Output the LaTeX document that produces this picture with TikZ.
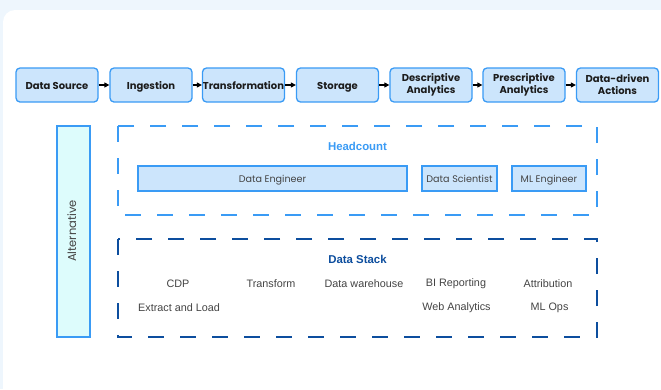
\documentclass[tikz,border=0pt]{standalone}
\usepackage{fontspec}
\setmainfont{Liberation Sans}
\newfontfamily\pop{Poppins}
\usetikzlibrary{arrows.meta}
\definecolor{pagebg}{HTML}{EEF6FD}
\definecolor{stepfill}{HTML}{CCE5FC}
\definecolor{stepline}{HTML}{3A9BF5}
\definecolor{altfill}{HTML}{DDFCFC}
\definecolor{darkblue}{HTML}{0D4E9E}
\definecolor{txt}{HTML}{1C1C1C}
\definecolor{graytxt}{HTML}{444444}
\tikzset{
  stage/.style={draw=stepline, fill=stepfill, line width=1.3pt, rounded corners=4pt,
    minimum width=82pt, minimum height=34pt, inner sep=0pt, align=center,
    text height=9.5pt, text depth=1pt,
    font=\pop\bfseries\fontsize{10}{12}\selectfont, text=txt},
  stagetwo/.style={stage, text height={}, text depth={}},
  flow/.style={-{Triangle[length=5pt,width=5pt]}, line width=1.2pt, black},
  role/.style={draw=stepline, fill=stepfill, line width=1.3pt, minimum height=25pt,
    inner sep=0pt, text height=8pt, text depth=1pt,
    font=\pop\fontsize{9.6}{11}\selectfont, text=graytxt},
  groupbox/.style={dash pattern=on 16pt off 16pt, line width=2.6pt},
  grouptitle/.style={font=\bfseries\fontsize{11.4}{13}\selectfont},
  tool/.style={font=\fontsize{10.8}{13}\selectfont, text=graytxt}
}
\begin{document}
\begin{tikzpicture}[x=1pt, y=-1pt]
\useasboundingbox (0,0) rectangle (661,389);
% backdrop and white panel
\fill[pagebg] (0,0) rectangle (661,389);
\fill[white, rounded corners=12pt] (3,10) rectangle (700,420);

% pipeline stages
\node[stage] (src)  at (57,85)    {Data Source};
\node[stage] (ing)  at (151,85)   {Ingestion};
\node[stage] (trf)  at (243.5,85) {Transformation};
\node[stage] (sto)  at (337.5,85) {Storage};
\node[stagetwo] (desc) at (431,85)   {Descriptive\\Analytics};
\node[stagetwo] (pres) at (524,85)   {Prescriptive\\Analytics};
\node[stagetwo] (act)  at (617.5,85) {Data-driven\\Actions};
\draw[flow] (src) -- (ing);
\draw[flow] (ing) -- (trf);
\draw[flow] (trf) -- (sto);
\draw[flow] (sto) -- (desc);
\draw[flow] (desc) -- (pres);
\draw[flow] (pres) -- (act);

% side label
\node[draw=stepline, fill=altfill, line width=2pt, minimum width=33pt, minimum height=211pt,
  inner sep=0pt] (alt) at (73,231) {};
\node[rotate=90, font=\pop\fontsize{11.5}{13}\selectfont, text=graytxt,
  text height=8pt, text depth=2pt] (altlbl) at (alt.center) {Alternative};

% headcount group
\draw[groupbox, draw=stepline] (118,126) rectangle (597,215);
\node[grouptitle, text=stepline] (hc) at (357.5,146) {Headcount};
\node[role, minimum width=269pt] (de) at (272.5,178.5) {Data Engineer};
\node[role, minimum width=75pt] (ds) at (459.5,178.5) {Data Scientist};
\node[role, minimum width=74pt] (ml) at (549,178.5) {ML Engineer};

% data stack group
\draw[groupbox, draw=darkblue] (118,239) rectangle (597,337);
\node[grouptitle, text=darkblue] (stk) at (357.5,259) {Data Stack};
\node[tool] (cdp) at (178,284) {CDP};
\node[tool] (tf)  at (271,284) {Transform};
\node[tool] (dw)  at (364,284) {Data warehouse};
\node[tool] (bi)  at (456,284) {BI Reporting};
\node[tool] (at)  at (548,284) {Attribution};
\node[tool] (el)  at (179,308) {Extract and Load};
\node[tool] (wa)  at (456.5,308) {Web Analytics};
\node[tool] (mo)  at (549.5,308) {ML Ops};
\end{tikzpicture}
\end{document}
